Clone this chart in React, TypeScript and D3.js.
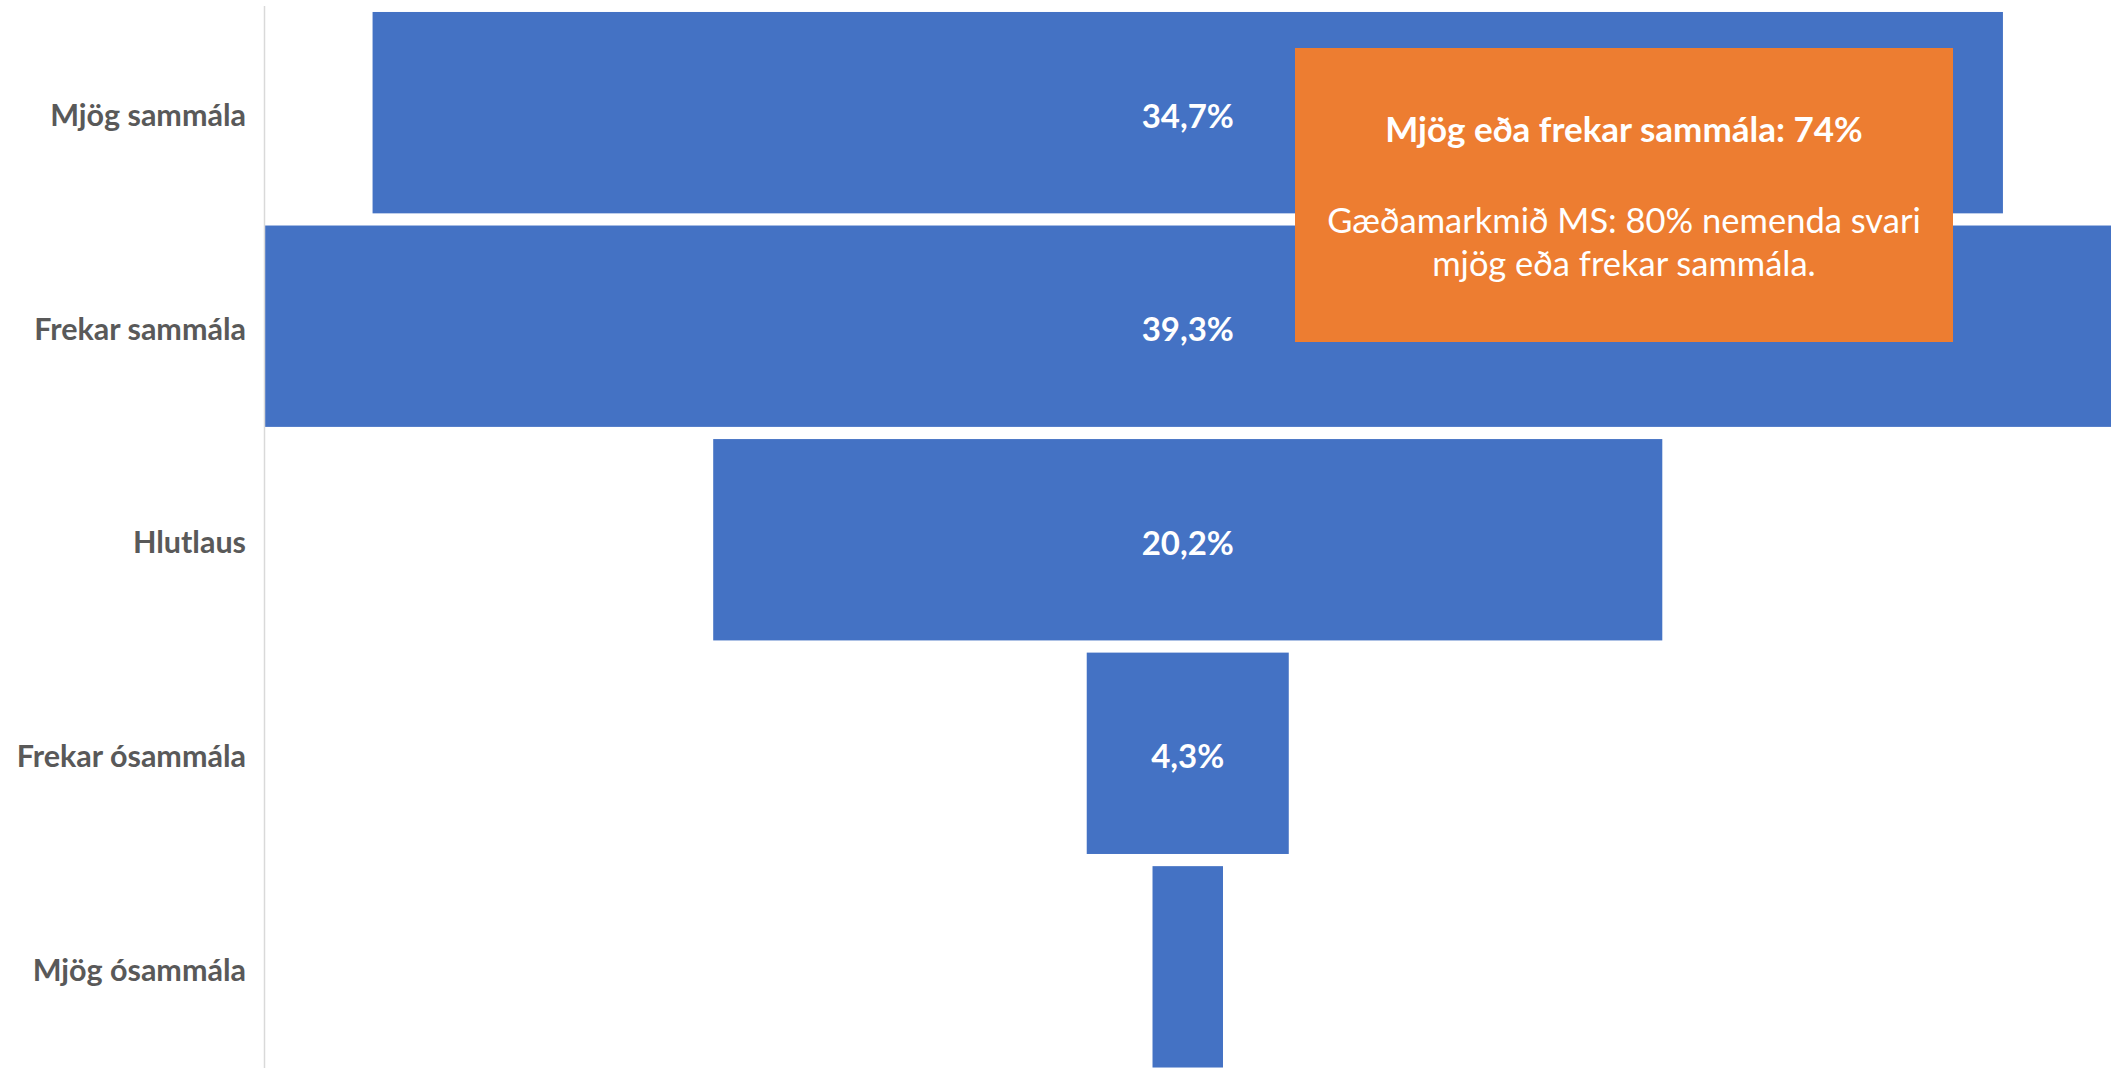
import React from 'react';
import * as d3 from 'd3';

// survey answers, share of students (%)
const categories = ['Mjög sammála', 'Frekar sammála', 'Hlutlaus', 'Frekar ósammála', 'Mjög ósammála'];
const shares = [34.7, 39.3, 20.2, 4.3, 1.5];
const showLabel = [true, true, true, true, false];

const noteTitle = 'Mjög eða frekar sammála: 74%';
const noteLines = ['Gæðamarkmið MS: 80% nemenda svari', 'mjög eða frekar sammála.'];

const W = 2122;
const H = 1068;
const BLUE = '#4472C4';
const ORANGE = '#ED7D31';
const FONT = 'Lato, "Open Sans", sans-serif';

const App: React.FC = () => {
  const axisX = 264.5;
  const plotRight = 2111;
  const centre = (axisX + plotRight) / 2;

  const y = d3.scaleBand<string>()
    .domain(categories)
    .range([6, 1073.5])
    .paddingInner(0.057)
    .paddingOuter(0.028);

  // funnel width scale: biggest share fills the plot
  const w = d3.scaleLinear()
    .domain([0, d3.max(shares) || 1])
    .range([0, plotRight - axisX]);

  const fmt = (v: number) => d3.format('.1f')(v).replace('.', ',') + '%';

  // annotation box
  const box = { x: 1295, y: 48, w: 658, h: 294 };
  const boxMid = box.x + box.w / 2;

  return (
    <svg width={W} height={H} style={{ position: 'absolute', left: 0, top: 0, background: '#fff' }}>
      <rect x={0} y={0} width={W} height={H} fill="#fff" />

      {/* bars */}
      {categories.map((c, i) => (
        <rect
          key={c}
          x={centre - w(shares[i]) / 2}
          y={y(c)}
          width={w(shares[i])}
          height={y.bandwidth()}
          fill={BLUE}
        />
      ))}

      {/* vertical axis line */}
      <line x1={axisX} x2={axisX} y1={6} y2={H} stroke="#d9d9d9" strokeWidth={1.5} />

      {/* category labels */}
      {categories.map((c) => (
        <text
          key={'l' + c}
          x={246}
          y={(y(c) || 0) + y.bandwidth() / 2}
          dy="0.45em"
          textAnchor="end"
          fontFamily={FONT}
          fontWeight={700}
          fontSize={30.5}
          fill="#595959"
        >
          {c}
        </text>
      ))}

      {/* value labels */}
      {categories.map((c, i) => showLabel[i] && (
        <text
          key={'v' + c}
          x={centre}
          y={(y(c) || 0) + y.bandwidth() / 2}
          dy="0.45em"
          textAnchor="middle"
          fontFamily={FONT}
          fontWeight={700}
          fontSize={33}
          fill="#fff"
        >
          {fmt(shares[i])}
        </text>
      ))}

      {/* annotation */}
      <rect x={box.x} y={box.y} width={box.w} height={box.h} fill={ORANGE} />
      <text x={boxMid} y={142} textAnchor="middle" fontFamily={FONT} fontWeight={700} fontSize={35} fill="#fff">
        {noteTitle}
      </text>
      {noteLines.map((t, i) => (
        <text key={t} x={boxMid} y={233 + i * 43} textAnchor="middle" fontFamily={FONT} fontSize={34.5} fill="#fff">
          {t}
        </text>
      ))}
    </svg>
  );
};

export default App;
